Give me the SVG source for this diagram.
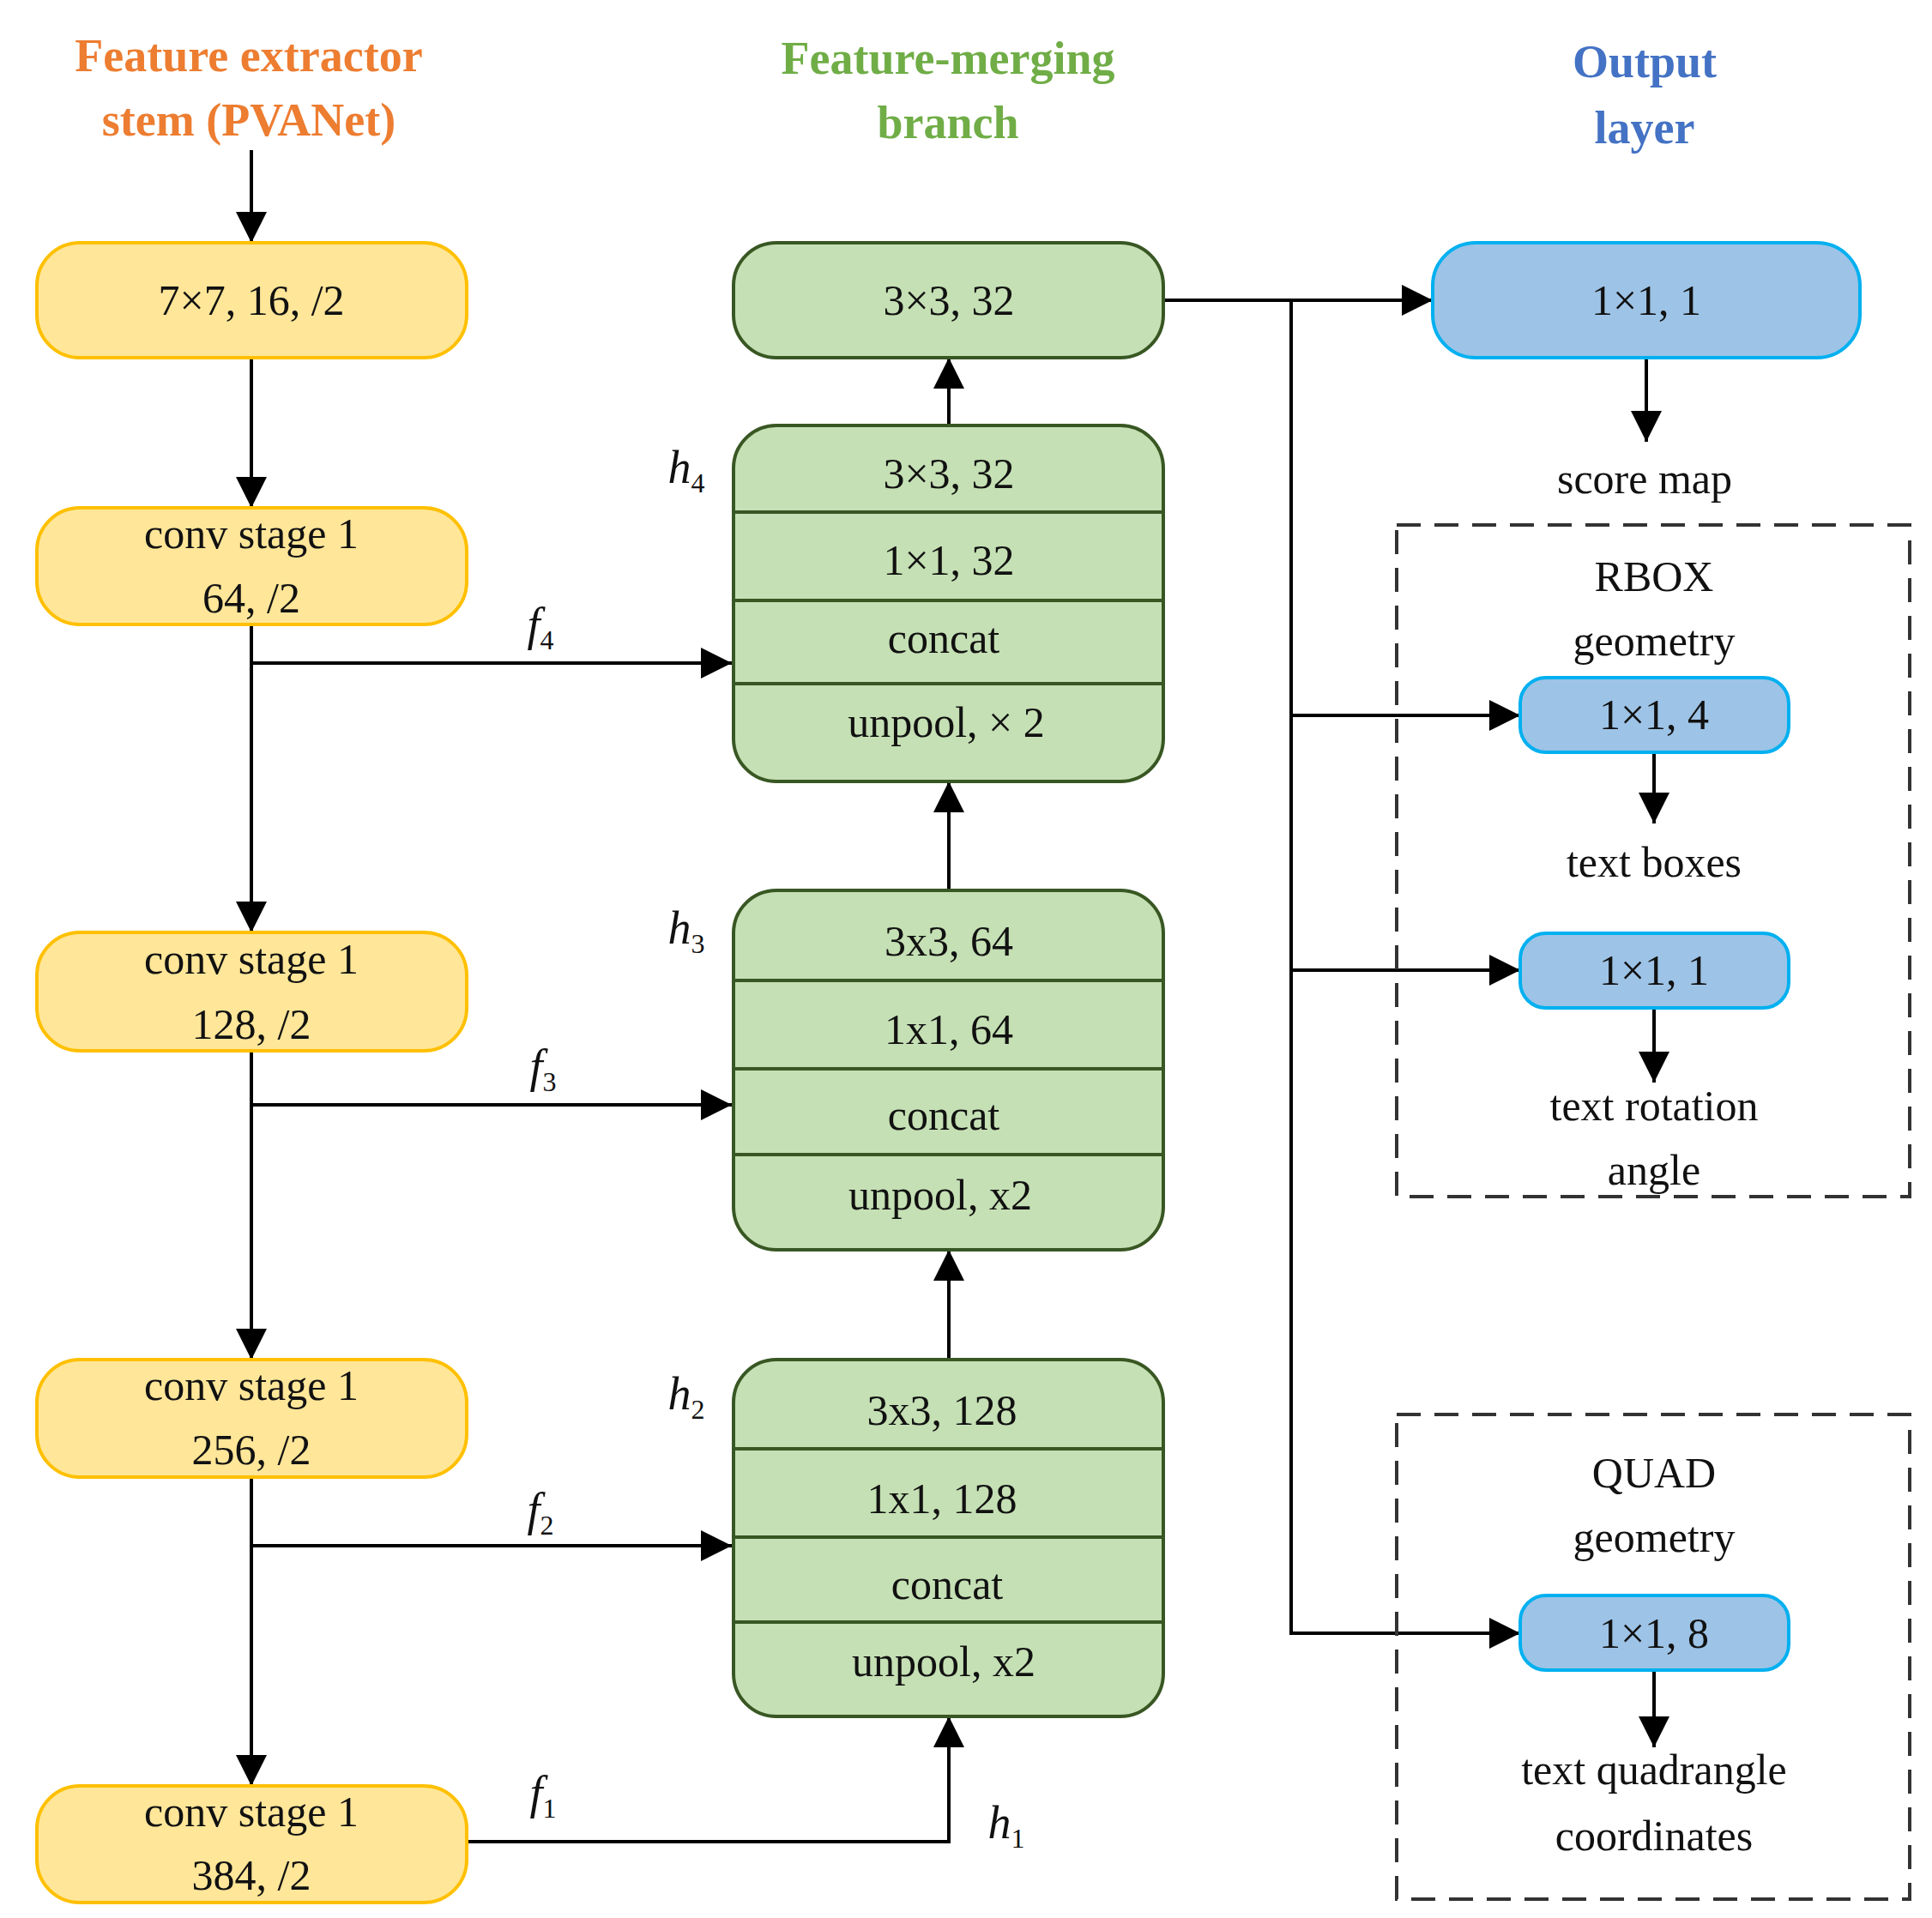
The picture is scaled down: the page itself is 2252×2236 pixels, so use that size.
<svg xmlns="http://www.w3.org/2000/svg" width="2252" height="2236" viewBox="0 0 2252 2236">
<style>
text{font-family:"Liberation Serif","Times New Roman",serif;text-anchor:middle;dominant-baseline:central;fill:#111}
.t{font-size:50px}
.h{font-weight:bold;font-size:54px}
.y{fill:#FFE699;stroke:#FFC000;stroke-width:4}
.g{fill:#C5E0B4;stroke:#385723;stroke-width:4}
.b{fill:#9DC3E6;stroke:#00B0F0;stroke-width:4}
.d{stroke:#385723;stroke-width:4}
.c{fill:none;stroke:#000;stroke-width:4}
.i{font-style:italic;font-size:54px}
.s{font-size:32px;font-style:normal}
</style>
<defs><marker id="a" markerWidth="10" markerHeight="10" refX="9" refY="5" orient="auto" markerUnits="userSpaceOnUse" viewBox="0 0 10 10"><path d="M0,0L10,5L0,10z" fill="#000"/></marker>
<marker id="m" viewBox="0 0 10 10" refX="10" refY="5" markerWidth="36" markerHeight="36" orient="auto" markerUnits="userSpaceOnUse"><path d="M0,0L10,5L0,10z" fill="#000"/></marker></defs>
<g id="titles">
<text class="h" x="290" y="65" fill="#ED7D31" style="fill:#ED7D31">Feature extractor</text>
<text class="h" x="290" y="140" style="fill:#ED7D31">stem (PVANet)</text>
<text class="h" x="1105" y="68" style="fill:#70AD47">Feature-merging</text>
<text class="h" x="1105" y="143" style="fill:#70AD47">branch</text>
<text class="h" x="1917" y="72" style="fill:#4472C4">Output</text>
<text class="h" x="1917" y="149" style="fill:#4472C4">layer</text>
</g>
<g id="connectors">
<path class="c" d="M293,175V283" marker-end="url(#m)"/>
<path class="c" d="M293,417V592" marker-end="url(#m)"/>
<path class="c" d="M293,728V1087" marker-end="url(#m)"/>
<path class="c" d="M293,1225V1585" marker-end="url(#m)"/>
<path class="c" d="M293,1722V2082" marker-end="url(#m)"/>
<path class="c" d="M293,773H853" marker-end="url(#m)"/>
<path class="c" d="M293,1288H853" marker-end="url(#m)"/>
<path class="c" d="M293,1802H853" marker-end="url(#m)"/>
<path class="c" d="M544,2147H1106V2001" marker-end="url(#m)"/>
<path class="c" d="M1106,1585V1457" marker-end="url(#m)"/>
<path class="c" d="M1106,1038V911" marker-end="url(#m)"/>
<path class="c" d="M1106,496V417" marker-end="url(#m)"/>
<path class="c" d="M1356,350H1670" marker-end="url(#m)"/>
<path class="c" d="M1505,350V1904H1772" marker-end="url(#m)"/>
<path class="c" d="M1505,834H1772" marker-end="url(#m)"/>
<path class="c" d="M1505,1131H1772" marker-end="url(#m)"/>
<path class="c" d="M1919,417V515" marker-end="url(#m)"/>
<path class="c" d="M1928,877V960" marker-end="url(#m)"/>
<path class="c" d="M1928,1175V1262" marker-end="url(#m)"/>
<path class="c" d="M1928,1947V2037" marker-end="url(#m)"/>
</g>
<g id="labels">
<text class="i" x="630" y="728">f<tspan class="s" dy="18">4</tspan></text>
<text class="i" x="633" y="1243">f<tspan class="s" dy="18">3</tspan></text>
<text class="i" x="630" y="1760">f<tspan class="s" dy="18">2</tspan></text>
<text class="i" x="633" y="2090">f<tspan class="s" dy="18">1</tspan></text>
<text class="i" x="800" y="545">h<tspan class="s" dy="18">4</tspan></text>
<text class="i" x="800" y="1082">h<tspan class="s" dy="18">3</tspan></text>
<text class="i" x="800" y="1625">h<tspan class="s" dy="18">2</tspan></text>
<text class="i" x="1173" y="2125">h<tspan class="s" dy="18">1</tspan></text>
</g>
<g id="y1"><rect class="y" x="43" y="283" width="501" height="134" rx="50"/><text class="t" x="293" y="350">7×7, 16, /2</text></g>
<g id="y2"><rect class="y" x="43" y="592" width="501" height="136" rx="50"/><text class="t" x="293" y="622">conv stage 1</text><text class="t" x="293" y="697">64, /2</text></g>
<g id="y3"><rect class="y" x="43" y="1087" width="501" height="138" rx="50"/><text class="t" x="293" y="1118">conv stage 1</text><text class="t" x="293" y="1194">128, /2</text></g>
<g id="y4"><rect class="y" x="43" y="1585" width="501" height="137" rx="50"/><text class="t" x="293" y="1615">conv stage 1</text><text class="t" x="293" y="1690">256, /2</text></g>
<g id="y5"><rect class="y" x="43" y="2082" width="501" height="136" rx="50"/><text class="t" x="293" y="2112">conv stage 1</text><text class="t" x="293" y="2186">384, /2</text></g>
<g id="g0"><rect class="g" x="855" y="283" width="501" height="134" rx="50"/><text class="t" x="1106" y="350">3×3, 32</text></g>
<g id="g1"><rect class="g" x="855" y="496" width="501" height="415" rx="50"/>
<path class="d" d="M855,597H1356M855,700H1356M855,797H1356"/>
<text class="t" x="1106" y="552">3×3, 32</text><text class="t" x="1106" y="653">1×1, 32</text><text class="t" x="1100" y="744">concat</text><text class="t" x="1103" y="842">unpool, × 2</text></g>
<g id="g2"><rect class="g" x="855" y="1038" width="501" height="419" rx="50"/>
<path class="d" d="M855,1143H1356M855,1246H1356M855,1346H1356"/>
<text class="t" x="1106" y="1097">3x3, 64</text><text class="t" x="1106" y="1200">1x1, 64</text><text class="t" x="1100" y="1300">concat</text><text class="t" x="1096" y="1393">unpool, x2</text></g>
<g id="g3"><rect class="g" x="855" y="1585" width="501" height="416" rx="50"/>
<path class="d" d="M855,1689H1356M855,1792H1356M855,1891H1356"/>
<text class="t" x="1098" y="1644">3x3, 128</text><text class="t" x="1098" y="1747">1x1, 128</text><text class="t" x="1104" y="1847">concat</text><text class="t" x="1100" y="1937">unpool, x2</text></g>
<g id="b0"><rect class="b" x="1670" y="283" width="498" height="134" rx="50"/><text class="t" x="1919" y="350">1×1, 1</text></g>
<text class="t" x="1917" y="558">score map</text>
<g id="rbox"><rect x="1628" y="612" width="598" height="783" fill="none" stroke="#333" stroke-width="4" stroke-dasharray="28,16"/>
<text class="t" x="1928" y="672">RBOX</text><text class="t" x="1928" y="747">geometry</text></g>
<g id="b1"><rect class="b" x="1772" y="790" width="313" height="87" rx="30"/><text class="t" x="1928" y="833">1×1, 4</text></g>
<text class="t" x="1928" y="1005">text boxes</text>
<g id="b2"><rect class="b" x="1772" y="1088" width="313" height="87" rx="30"/><text class="t" x="1928" y="1131">1×1, 1</text></g>
<text class="t" x="1928" y="1289">text rotation</text><text class="t" x="1928" y="1364">angle</text>
<g id="quad"><rect x="1628" y="1649" width="598" height="565" fill="none" stroke="#333" stroke-width="4" stroke-dasharray="28,16"/>
<text class="t" x="1928" y="1717">QUAD</text><text class="t" x="1928" y="1792">geometry</text></g>
<g id="b3"><rect class="b" x="1772" y="1860" width="313" height="87" rx="30"/><text class="t" x="1928" y="1904">1×1, 8</text></g>
<text class="t" x="1928" y="2063">text quadrangle</text><text class="t" x="1928" y="2140">coordinates</text>
</svg>
